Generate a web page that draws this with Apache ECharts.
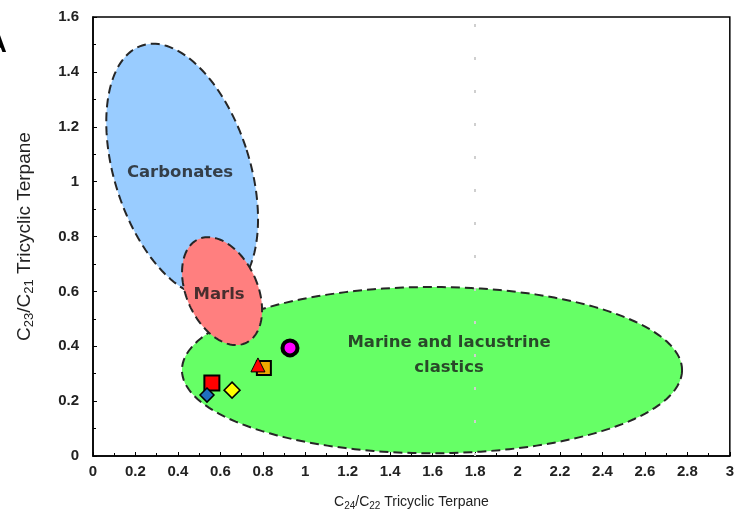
<!DOCTYPE html>
<html>
<head>
<meta charset="utf-8">
<script src="https://cdn.jsdelivr.net/npm/echarts@6/dist/echarts.min.js"></script>
<style>html,body{margin:0;padding:0;background:#fff}#c{width:737px;height:520px}</style>
</head>
<body>
<div id="c"></div>
<script>
// ---- axis ranges ----
const xMin = 0, xMax = 3, xStep = 0.2;
const yMin = 0, yMax = 1.6, yStep = 0.2;

// ---- field regions (ellipses): centre, semi-axes (data units), tilt (deg) ----
const regionNames = ['Carbonates', 'Marine and lacustrine clastics', 'Marls'];
const regionCX = [0.42, 1.597, 0.608];
const regionCY = [1.04, 0.313, 0.601];
const regionRX = [0.319, 1.178, 0.167];
const regionRY = [0.479, 0.303, 0.208];
const regionTilt = [-17.7, 0, -24.5];

// ---- region captions ----
const captionText = ['Carbonates', 'Marls', 'Marine and lacustrine\nclastics'];
const captionX = [0.41, 0.594, 1.677];
const captionY = [1.031, 0.587, 0.368];

// ---- samples ----
const sampleX = [0.56, 0.537, 0.655, 0.805, 0.777, 0.928];
const sampleY = [0.266, 0.222, 0.24, 0.321, 0.332, 0.394];

// ---- styles ----
const regionColors = ['#99ccff', '#66ff66', '#ff7f7f'];
const sampleSymbols = ['rect', 'diamond', 'diamond', 'rect', 'triangle', 'circle'];
const sampleSizes = [15, 14, 16, 14, 14, 15];
const sampleColors = ['#ff0000', '#1f6fbf', '#ffff00', '#f0a800', '#ff0000', '#ff00ff'];
const sampleBorders = [2, 1.5, 1.5, 2, 1, 4];

const chart = echarts.init(document.getElementById('c'), null, {renderer: 'canvas'});

const regionData = regionNames.map((n, i) => [regionCX[i], regionCY[i], regionRX[i], regionRY[i], regionTilt[i]]);

const sampleSeries = sampleX.map((x, i) => ({
  type: 'scatter',
  z: 5,
  symbol: sampleSymbols[i],
  symbolSize: sampleSizes[i],
  itemStyle: {color: sampleColors[i], borderColor: '#000', borderWidth: sampleBorders[i], opacity: 1},
  data: [[x, sampleY[i]]],
  silent: true
}));

const font = '"Liberation Sans", Arial, sans-serif';
const rich = {
  n: {fontFamily: font, fontSize: 14, color: '#222'},
  s: {fontFamily: font, fontSize: 10, color: '#222', padding: [7, 0, 0, 0]}
};
const richY = {
  n: {fontFamily: font, fontSize: 19, color: '#222'},
  s: {fontFamily: font, fontSize: 13, color: '#222', padding: [9, 0, 0, 0]}
};

chart.setOption({
  animation: false,
  backgroundColor: '#fff',
  grid: {left: 93, right: 6, top: 17, bottom: 64, show: true, borderColor: '#000', borderWidth: 1.5, backgroundColor: 'transparent'},
  xAxis: {
    type: 'value', min: xMin, max: xMax, interval: xStep,
    name: '{n|C}{s|24}{n|/C}{s|22}{n| Tricyclic Terpane}',
    nameLocation: 'middle', nameGap: 38,
    nameTextStyle: {rich: rich},
    axisLine: {show: true, onZero: false, lineStyle: {color: '#000', width: 1.5}},
    axisTick: {show: true, inside: true, length: 4, lineStyle: {color: '#000'}},
    minorTick: {show: true, splitNumber: 2, length: 3, lineStyle: {color: '#000'}},
    splitLine: {show: false},
    axisLabel: {fontFamily: font, fontWeight: 'bold', fontSize: 15, color: '#222', margin: 8, formatter: v => String(+v.toFixed(1))}
  },
  yAxis: {
    type: 'value', min: yMin, max: yMax, interval: yStep,
    name: '{n|C}{s|23}{n|/C}{s|21}{n| Tricyclic Terpane}',
    nameLocation: 'middle', nameGap: 57, nameRotate: 90,
    nameTextStyle: {rich: richY},
    axisLine: {show: true, onZero: false, lineStyle: {color: '#000', width: 1.5}},
    axisTick: {show: true, inside: true, length: 4, lineStyle: {color: '#000'}},
    minorTick: {show: true, splitNumber: 2, length: 3, lineStyle: {color: '#000'}},
    splitLine: {show: false},
    axisLabel: {fontFamily: font, fontWeight: 'bold', fontSize: 15, color: '#222', margin: 14, formatter: v => String(+v.toFixed(1))}
  },
  graphic: [{type: 'text', left: -12, top: 32, style: {text: 'A', font: 'bold 26px ' + font, fill: '#000'}}],
  series: [
    {
      type: 'custom',
      z: 2,
      silent: true,
      clip: true,
      encode: {x: 0, y: 1},
      data: regionData,
      renderItem: function (params, api) {
        const c = api.coord([api.value(0), api.value(1)]);
        const rx = api.size([api.value(2), 0])[0];
        const ry = api.size([0, api.value(3)])[1];
        const phi = api.value(4) * Math.PI / 180;
        const pts = [];
        const N = 160;
        for (let k = 0; k < N; k++) {
          const t = 2 * Math.PI * k / N;
          const u = rx * Math.cos(t), v = ry * Math.sin(t);
          pts.push([c[0] + u * Math.cos(phi) - v * Math.sin(phi), c[1] + u * Math.sin(phi) + v * Math.cos(phi)]);
        }
        return {
          type: 'polygon',
          shape: {points: pts},
          style: {fill: regionColors[params.dataIndex], stroke: '#262626', lineWidth: 2, lineDash: [9, 5]}
        };
      },
      markLine: {
        silent: true, symbol: 'none', label: {show: false},
        lineStyle: {color: '#cfcfcf', type: [3, 30], width: 2},
        data: [{xAxis: 1.8}]
      }
    },
    {
      type: 'scatter',
      z: 4,
      silent: true,
      symbolSize: 0,
      data: captionX.map((x, i) => ({value: [x, captionY[i]], label: {formatter: captionText[i]}})),
      label: {show: true, position: 'inside', fontFamily: '"DejaVu Sans", sans-serif', fontWeight: 'bold', fontSize: 16.5, color: '#1a1a1a', lineHeight: 25, align: 'center'}
    }
  ].concat(sampleSeries)
});
</script>
</body>
</html>
